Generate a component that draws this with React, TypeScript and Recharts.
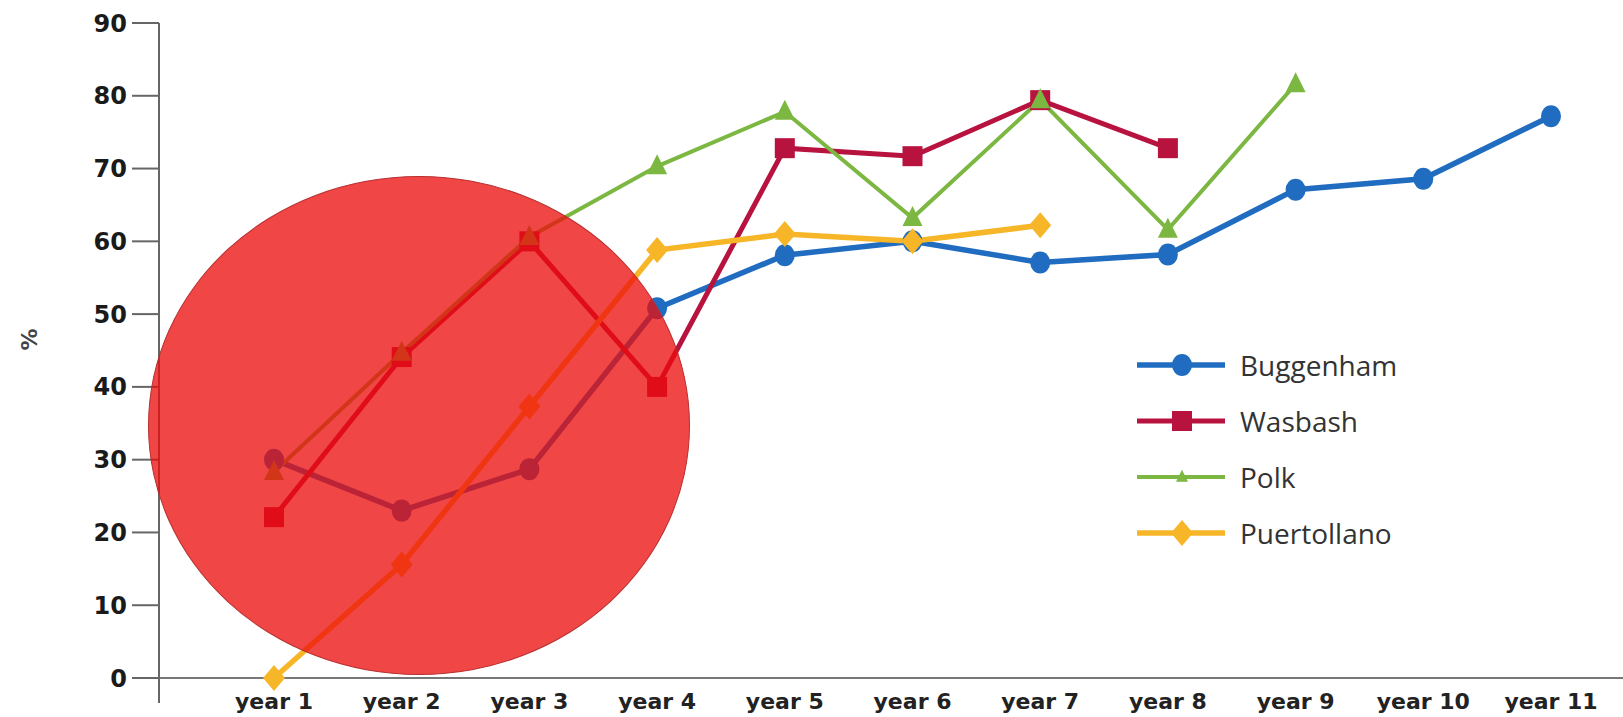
import React from 'react';
import { LineChart, Line, XAxis, YAxis, Legend } from 'recharts';

const years = ['year 1', 'year 2', 'year 3', 'year 4', 'year 5', 'year 6', 'year 7', 'year 8', 'year 9', 'year 10', 'year 11'];
const buggenham = [30, 23, 28.7, 50.8, 58.1, 60, 57.1, 58.2, 67.1, 68.6, 77.2];
const wasbash = [22.1, 44.1, 60, 40, 72.8, 71.7, 79.4, 72.8, null, null, null];
const polk = [28.3, 44.7, 60.6, 70.3, 77.8, 63.2, 79.4, 61.6, 81.6, null, null];
const puertollano = [0, 15.6, 37.3, 58.8, 61, 60, 62.2, null, null, null, null];
const yTicks = [0, 10, 20, 30, 40, 50, 60, 70, 80, 90];

const series = [
  { key: 'Buggenham', color: '#1f6cc0', shape: 'circle', width: 5.5 },
  { key: 'Wasbash', color: '#b8123f', shape: 'square', width: 5 },
  { key: 'Polk', color: '#7cb742', shape: 'triangle', width: 4 },
  { key: 'Puertollano', color: '#f7b628', shape: 'diamond', width: 5.5 },
];

const data = years.map((year, i) => ({
  year,
  Buggenham: buggenham[i],
  Wasbash: wasbash[i],
  Polk: polk[i],
  Puertollano: puertollano[i],
}));

function Marker({ shape, cx, cy, color, small }: { shape: string; cx: number; cy: number; color: string; small?: boolean }) {
  if (shape === 'circle') return <ellipse cx={cx} cy={cy} rx={10} ry={11} fill={color} />;
  if (shape === 'square') return <rect x={cx - 10} y={cy - 10} width={20} height={20} fill={color} />;
  if (shape === 'triangle') {
    const k = small ? 0.6 : 1;
    return (
      <polygon
        points={`${cx},${cy - 12 * k} ${cx + 10 * k},${cy + 8 * k} ${cx - 10 * k},${cy + 8 * k}`}
        fill={color}
      />
    );
  }
  return <polygon points={`${cx},${cy - 13} ${cx + 11},${cy} ${cx},${cy + 13} ${cx - 11},${cy}`} fill={color} />;
}

function makeDot(shape: string, color: string, name: string) {
  return (props: any) => {
    const { cx, cy, index, value } = props;
    if (value == null || cx == null || cy == null) return <g key={`${name}-${index}`} />;
    return (
      <g key={`${name}-${index}`}>
        <Marker shape={shape} cx={cx} cy={cy} color={color} />
      </g>
    );
  };
}

function LegendContent(props: any) {
  const { payload = [] } = props;
  // keep the series order, not the sorted payload order
  const entries = series
    .map((s) => ({ s, entry: payload.find((p: any) => p.dataKey === s.key || p.value === s.key) }))
    .filter((x) => x.entry);
  return (
    <div>
      {entries.map(({ s, entry }) => (
        <div key={s.key} style={{ display: 'flex', alignItems: 'center', height: 56 }}>
          <svg width={90} height={56}>
            <line x1={0} y1={28} x2={88} y2={28} stroke={s.color} strokeWidth={s.width} />
            <Marker shape={s.shape} cx={45} cy={28} color={s.color} small />
          </svg>
          <span
            style={{
              marginLeft: 13,
              fontFamily: '"Open Sans", sans-serif',
              fontSize: 28,
              color: '#333',
            }}
          >
            {entry.value}
          </span>
        </div>
      ))}
    </div>
  );
}

export default function App() {
  return (
    <div style={{ position: 'absolute', left: 0, top: 0, width: 1623, height: 717, background: '#fff' }}>
      <LineChart width={1623} height={717} data={data} margin={{ top: 23, right: 0, bottom: 0, left: 0 }}>
        <XAxis
          dataKey="year"
          interval={0}
          padding={{ left: 115, right: 72 }}
          height={39}
          tickLine={false}
          tickSize={6}
          tickMargin={9}
          axisLine={{ stroke: '#777', strokeWidth: 2 }}
          tick={{ fill: '#222', fontSize: 22, fontWeight: 'bold', fontFamily: '"DejaVu Sans", sans-serif' }}
        />
        <YAxis
          width={159}
          domain={[0, 90]}
          ticks={yTicks}
          interval={0}
          tickSize={27}
          tickMargin={5}
          axisLine={{ stroke: '#666', strokeWidth: 2 }}
          tickLine={{ stroke: '#666', strokeWidth: 2 }}
          tick={{ fill: '#1a1a1a', fontSize: 24, fontWeight: 'bold', fontFamily: '"DejaVu Sans", sans-serif' }}
          label={{
            value: '%',
            angle: -90,
            position: 'insideLeft',
            offset: 29,
            style: { fill: '#444', fontSize: 22, fontWeight: 'bold', fontFamily: '"DejaVu Sans", sans-serif' },
          }}
        />
        <Legend
          layout="vertical"
          align="center"
          verticalAlign="middle"
          content={<LegendContent />}
          wrapperStyle={{ left: 1137, top: 337, width: 420, height: 230 }}
        />
        {series.map((s) => (
          <Line
            key={s.key}
            type="linear"
            dataKey={s.key}
            stroke={s.color}
            strokeWidth={s.width}
            dot={makeDot(s.shape, s.color, s.key)}
            activeDot={false}
            connectNulls={false}
            isAnimationActive={false}
          />
        ))}
      </LineChart>
      {/* y axis runs a little below the x axis */}
      <div style={{ position: 'absolute', left: 158, top: 678, width: 2, height: 25, background: '#666' }} />
      {/* red highlight ellipse drawn over the early years */}
      <div
        style={{
          position: 'absolute',
          left: 148,
          top: 176,
          width: 542,
          height: 499,
          borderRadius: '50%',
          background: 'rgba(236, 12, 12, 0.76)',
          border: '1.5px solid #b83030',
          boxSizing: 'border-box',
          pointerEvents: 'none',
        }}
      />
    </div>
  );
}
